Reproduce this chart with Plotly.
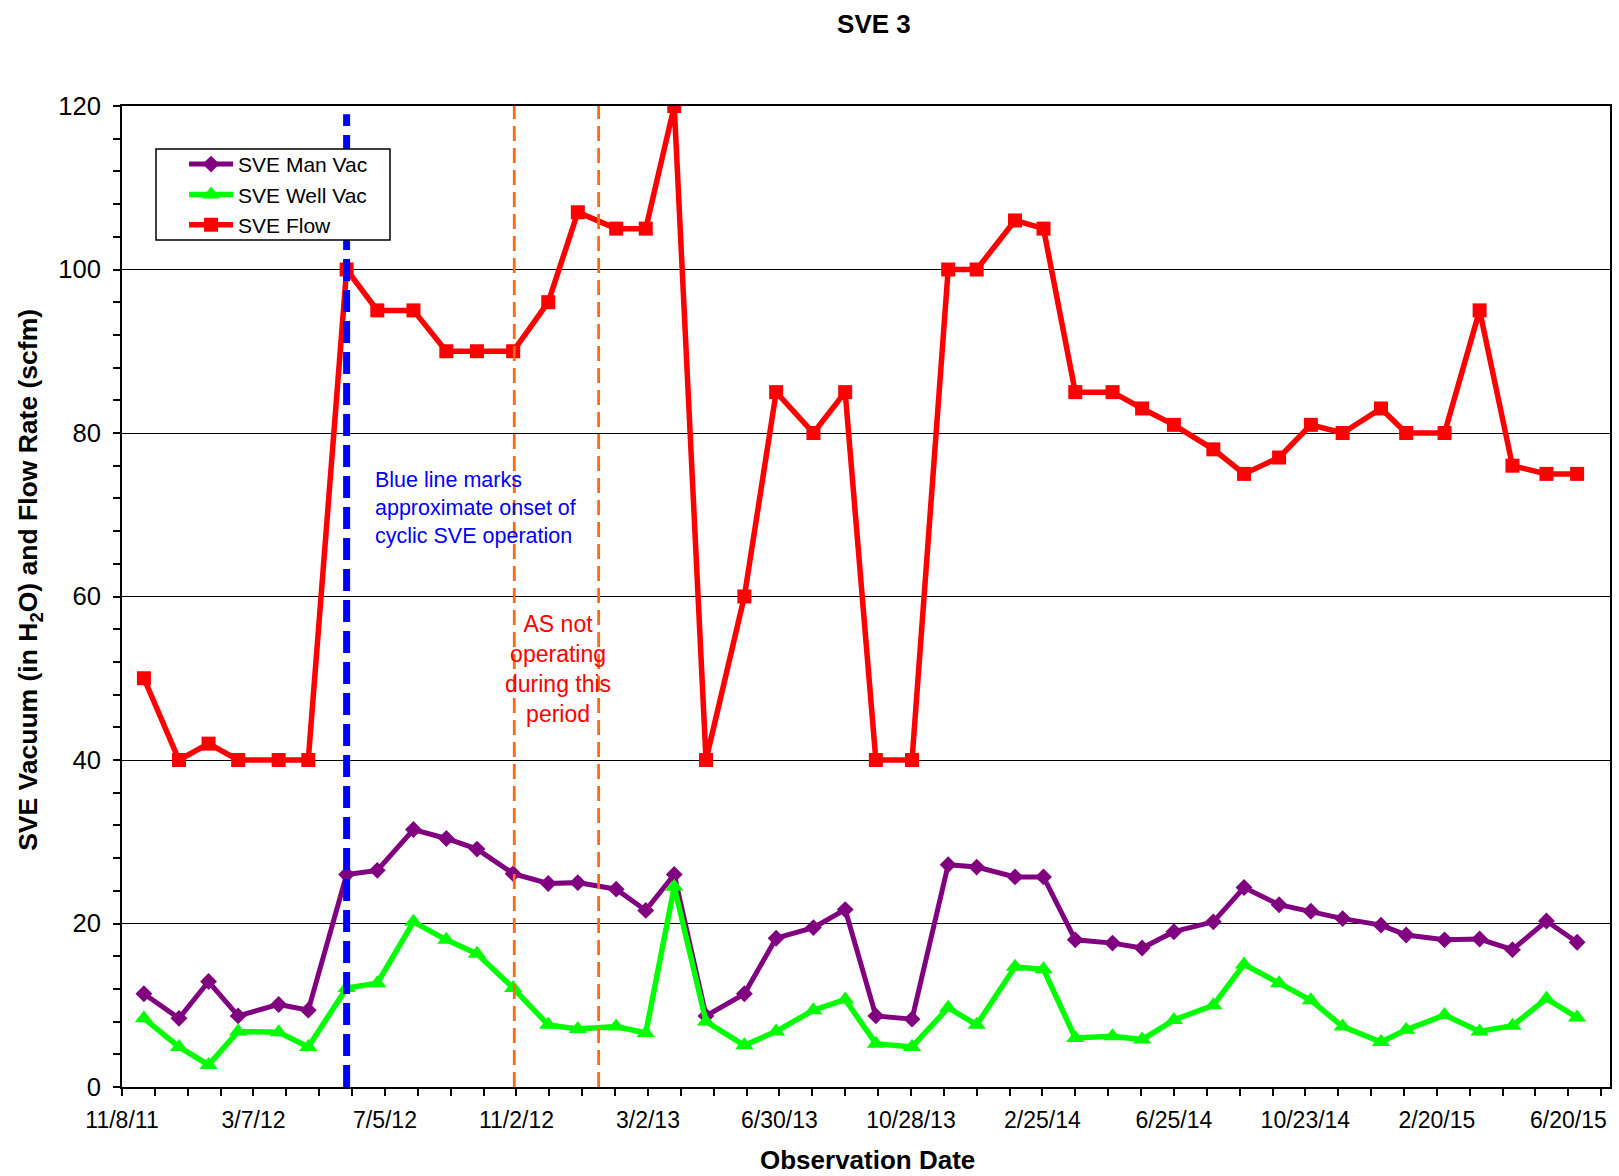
import plotly.graph_objects as go

# Observation dates and readings
obs_dates = [
    "2011-11-28", "2011-12-30", "2012-01-26", "2012-02-22", "2012-03-30", "2012-04-26",
    "2012-05-31", "2012-06-28", "2012-07-31", "2012-08-30", "2012-09-27", "2012-10-30",
    "2012-12-01", "2012-12-28", "2013-02-01", "2013-02-28", "2013-03-26", "2013-04-24",
    "2013-05-29", "2013-06-27", "2013-07-31", "2013-08-29", "2013-09-26", "2013-10-29",
    "2013-12-01", "2013-12-27", "2014-01-31", "2014-02-26", "2014-03-27", "2014-04-30",
    "2014-05-27", "2014-06-25", "2014-07-31", "2014-08-28", "2014-09-29", "2014-10-28",
    "2014-11-26", "2014-12-31", "2015-01-23", "2015-02-27", "2015-03-31", "2015-04-30",
    "2015-05-31", "2015-06-28",
]

man_vac = [
    11.4, 8.4, 12.9, 8.7, 10.1, 9.4,
    26.0, 26.5, 31.5, 30.4, 29.1, 26.1,
    24.9, 25.0, 24.2, 21.6, 26.0, 8.7,
    11.4, 18.2, 19.5, 21.7, 8.7, 8.3,
    27.2, 26.9, 25.7, 25.7, 18.0, 17.6,
    17.0, 19.0, 20.2, 24.4, 22.3, 21.5,
    20.6, 19.8, 18.6, 18.0, 18.1, 16.8,
    20.3, 17.7,
]

well_vac = [
    8.4, 4.9, 2.7, 6.8, 6.7, 4.9,
    12.1, 12.7, 20.2, 18.0, 16.3, 12.1,
    7.6, 7.1, 7.4, 6.6, 24.5, 8.0,
    5.1, 6.8, 9.4, 10.7, 5.3, 4.9,
    9.7, 7.6, 14.7, 14.4, 6.0, 6.2,
    5.8, 8.2, 10.0, 15.0, 12.7, 10.6,
    7.4, 5.5, 7.0, 8.8, 6.8, 7.5,
    10.8, 8.5,
]

flow = [
    50, 40, 42, 40, 40, 40,
    100, 95, 95, 90, 90, 90,
    96, 107, 105, 105, 120, 40,
    60, 85, 80, 85, 40, 40,
    100, 100, 106, 105, 85, 85,
    83, 81, 78, 75, 77, 81,
    80, 83, 80, 80, 95, 76,
    75, 75,
]

# Event markers
cyclic_onset = "2012-05-31"
as_off_period = ["2012-10-31", "2013-01-16"]

x_range = ["2011-11-08", "2015-07-28"]
DAY_MS = 86400000

FONT = "Liberation Sans, Arial, sans-serif"

fig = go.Figure()

fig.add_trace(go.Scatter(
    x=obs_dates, y=man_vac, name="SVE Man Vac", mode="lines+markers",
    line=dict(color="#800080", width=5),
    marker=dict(symbol="diamond", size=13, color="#800080"),
))
fig.add_trace(go.Scatter(
    x=obs_dates, y=well_vac, name="SVE Well Vac", mode="lines+markers",
    line=dict(color="#00ff00", width=5.5),
    marker=dict(symbol="triangle-up", size=16, color="#00ff00"),
))
fig.add_trace(go.Scatter(
    x=obs_dates, y=flow, name="SVE Flow", mode="lines+markers",
    line=dict(color="#ff0000", width=5.5),
    marker=dict(symbol="square", size=14, color="#ff0000"),
))

# Onset of cyclic operation (blue) and air-sparge shutdown window (orange)
fig.add_shape(type="line", xref="x", yref="y", x0=cyclic_onset, x1=cyclic_onset,
              y0=0, y1=119, line=dict(color="#0000ff", width=7, dash="22px,9px"))
for d in as_off_period:
    fig.add_shape(type="line", xref="x", yref="y", x0=d, x1=d, y0=0, y1=120,
                  line=dict(color="#ff6a13", width=2.8, dash="15px,7px"))

# Legend frame (white box over the plot, legend entries sit on it)
fig.add_shape(type="rect", xref="paper", yref="paper",
              x0=0.02285, x1=0.1801, y0=0.8634, y1=0.9562,
              fillcolor="white", line=dict(color="black", width=1.5), layer="above")

fig.add_annotation(
    text="Blue line marks<br>approximate onset of<br>cyclic SVE operation",
    xref="paper", yref="paper", x=0.169, y=0.5905, xanchor="left", yanchor="middle",
    align="left", showarrow=False, font=dict(family=FONT, size=21.5, color="#0000ff"),
)
fig.add_annotation(
    text="AS not<br>operating<br>during this<br>period",
    xref="paper", yref="paper", x=0.293, y=0.4261, xanchor="center", yanchor="middle",
    align="center", showarrow=False, font=dict(family=FONT, size=23, color="#ff0000"),
)

# Axis titles
fig.add_annotation(
    text="<b>SVE Vacuum (in H<sub>2</sub>O) and Flow Rate (scfm)</b>",
    xref="paper", yref="paper", x=-0.0618, y=0.517, textangle=-90,
    xanchor="center", yanchor="middle", showarrow=False,
    font=dict(family=FONT, size=26.5, color="black"),
)
fig.add_annotation(
    text="<b>Observation Date</b>",
    xref="paper", yref="paper", x=0.5007, y=-0.0748,
    xanchor="center", yanchor="middle", showarrow=False,
    font=dict(family=FONT, size=26, color="black"),
)

fig.update_layout(
    width=1619, height=1176,
    margin=dict(l=122, r=9, t=106, b=89, autoexpand=False),
    paper_bgcolor="white", plot_bgcolor="white",
    font=dict(family=FONT, color="black"),
    title=dict(text="<b>SVE 3</b>", x=0.5398, xref="container", xanchor="center",
               y=0.9796, yref="container", yanchor="middle",
               font=dict(family=FONT, size=26, color="black")),
    showlegend=True,
    legend=dict(
        x=0.0417, y=0.9613, xanchor="left", yanchor="top",
        bgcolor="rgba(0,0,0,0)", borderwidth=0,
        font=dict(family=FONT, size=21, color="black"),
        itemwidth=44, tracegroupgap=0,
    ),
    xaxis=dict(
        type="date", range=x_range,
        tick0="2011-11-08", dtick=120 * DAY_MS, tickformat="%-m/%-d/%y",
        ticks="outside", ticklen=7, tickwidth=1.5, tickcolor="black",
        ticklabelstandoff=4,
        tickfont=dict(family=FONT, size=23, color="black"),
        minor=dict(tick0="2011-11-08", dtick=30 * DAY_MS, ticks="outside",
                   ticklen=7, tickwidth=1.5, tickcolor="black", showgrid=False),
        showgrid=False, showline=True, linecolor="black", linewidth=2, mirror=True,
        zeroline=False, automargin=False,
    ),
    yaxis=dict(
        range=[0, 120], dtick=20, tick0=0,
        ticks="outside", ticklen=7, tickwidth=1.5, tickcolor="black",
        ticklabelstandoff=7,
        tickfont=dict(family=FONT, size=25.6, color="black"),
        minor=dict(dtick=4, ticks="outside", ticklen=7, tickwidth=1.5,
                   tickcolor="black", showgrid=False),
        showgrid=True, gridcolor="black", gridwidth=1,
        showline=True, linecolor="black", linewidth=2, mirror=True,
        zeroline=False, automargin=False,
    ),
)

fig.write_html("out.html")
